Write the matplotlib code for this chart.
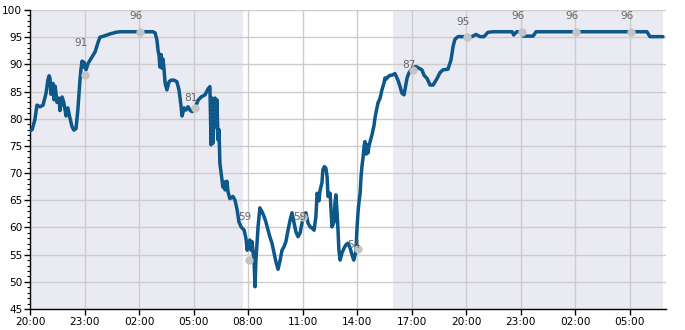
import matplotlib
matplotlib.use("Agg")
import matplotlib.pyplot as plt
import matplotlib.dates as mdates
import pandas as pd

# ---- data (minutes after 20:00 on day 1, value) ----
minutes = [0, 7, 16, 23, 33, 43, 53, 59, 63, 66, 69, 76, 79, 83, 89, 96, 99, 106, 112, 119,
           125, 132, 139, 145, 152, 158, 165, 168, 172, 175, 178, 185, 192, 205, 215, 225, 231,
           244, 264, 284, 297, 406, 413, 419, 423, 426, 429, 433, 436, 439, 442, 446, 452, 459,
           466, 475, 485, 492, 499, 502, 509, 515, 522, 528, 535, 545, 555, 565, 578, 588, 594,
           598, 601, 604, 611, 614, 617, 621, 624, 627, 634, 637, 641, 644, 650, 654, 660, 670,
           677, 684, 690, 697, 707, 713, 717, 721, 726, 730, 733, 740, 743, 746, 753, 759, 766,
           773, 779, 786, 792, 799, 806, 812, 819, 826, 832, 839, 845, 852, 859, 865, 872, 878,
           885, 892, 898, 905, 911, 918, 925, 931, 938, 944, 948, 954, 958, 964, 967, 972, 977,
           981, 984, 991, 997, 1004, 1007, 1010, 1014, 1017, 1020, 1024, 1030, 1037, 1043, 1050,
           1057, 1063, 1069, 1076, 1080, 1083, 1086, 1090, 1093, 1096, 1100, 1103, 1106, 1110,
           1113, 1116, 1119, 1123, 1129, 1136, 1139, 1143, 1149, 1156, 1162, 1169, 1172, 1176,
           1182, 1189, 1195, 1205, 1215, 1222, 1228, 1235, 1238, 1245, 1251, 1258, 1264, 1274,
           1284, 1294, 1301, 1311, 1321, 1331, 1344, 1354, 1364, 1380, 1390, 1397, 1403, 1413,
           1430, 1459, 1473, 1486, 1499, 1512, 1529, 1592, 1597, 1607, 1621, 1629, 1661, 1671,
           2037, 2047, 2090]
values = [77.8, 78.0, 79.8, 82.5, 82.2, 82.5, 84.7, 87.1, 87.9, 87.5, 84.5, 86.5, 83.5, 86.0,
          83.0, 83.8, 81.5, 84.0, 82.9, 80.5, 82.0, 80.1, 78.5, 77.9, 78.2, 81.6, 87.1, 89.0,
          90.6, 89.5, 90.4, 89.0, 90.2, 91.4, 92.3, 94.1, 95.0, 95.2, 95.6, 95.9, 96.0, 96.0,
          95.8, 94.5, 92.5, 91.7, 89.5, 91.8, 89.3, 91.0, 89.5, 86.6, 85.3, 86.8, 87.1, 87.1,
          86.8, 85.3, 82.2, 80.5, 82.0, 81.6, 82.2, 81.6, 81.3, 82.0, 83.4, 84.0, 84.4, 85.5,
          85.9, 75.2, 83.8, 75.5, 83.8, 78.5, 83.5, 76.1, 78.0, 71.8, 68.7, 67.4, 68.4, 66.9,
          68.5, 66.5, 65.3, 65.7, 65.0, 63.2, 61.0, 60.1, 59.5, 58.0, 55.8, 56.5, 57.7, 55.8,
          57.4, 53.5, 49.1, 54.0, 60.1, 63.6, 62.9, 62.0, 61.0, 59.5, 58.3, 57.1, 55.3, 53.7,
          52.3, 54.0, 55.8, 56.5, 57.4, 59.5, 61.4, 62.7, 60.8, 59.2, 58.3, 59.0, 60.8, 62.3,
          62.7, 60.8, 60.1, 59.9, 59.5, 62.0, 66.3, 64.9, 66.9, 68.2, 70.6, 71.2, 70.9, 69.3,
          65.7, 66.3, 60.1, 61.0, 64.5, 66.0, 62.7, 59.5, 55.8, 54.0, 55.3, 56.2, 56.8, 57.1,
          56.2, 55.0, 54.0, 55.5, 60.1, 62.7, 64.5, 66.3, 69.3, 71.2, 73.0, 74.9, 75.8, 73.5,
          75.2, 73.7, 74.9, 75.8, 77.0, 78.8, 80.1, 81.3, 82.9, 83.8, 85.3, 86.6, 87.5, 87.3,
          87.7, 88.0, 88.0, 88.3, 87.1, 85.9, 84.7, 84.4, 85.3, 87.5, 88.4, 89.0, 89.3, 89.6,
          89.3, 89.0, 88.0, 87.4, 86.2, 86.2, 87.4, 88.5, 89.0, 89.1, 90.8, 93.3, 94.6, 95.1,
          95.1, 95.1, 95.5, 95.1, 95.1, 95.9, 96.0, 96.0, 95.4, 96.0, 96.0, 95.2, 95.2, 96.0,
          96.0, 95.1, 95.1]

# annotated points: minutes after start, dot value, label text value
mark_minutes = [183, 363, 544, 723, 903, 1083, 1263, 1443, 1623, 1803, 1983]
mark_values = [88, 96, 82, 54, 62, 56, 89, 95, 96, 96, 96]
mark_labels = ["91", "96", "81", "59", "59", "54", "87", "95", "96", "96", "96"]
mark_label_values = [91, 96, 81, 59, 59, 54, 87, 95, 96, 96, 96]

# shaded (night) spans in minutes after start
shade_spans = [(0, 702), (1200, 2090)]

start = pd.Timestamp("2024-01-01 20:00")
x_end_minutes = 2100
y_min, y_max = 45, 100
y_ticks = [45, 50, 55, 60, 65, 70, 75, 80, 85, 90, 95, 100]

t = [start + pd.Timedelta(minutes=m) for m in minutes]
tm = [start + pd.Timedelta(minutes=m) for m in mark_minutes]

fig = plt.figure(figsize=(6.85, 3.30), dpi=100)
ax = fig.add_axes([30 / 685, 21 / 330, 636 / 685, 299 / 330])

for a, b in shade_spans:
    ax.axvspan(start + pd.Timedelta(minutes=a), start + pd.Timedelta(minutes=b),
               color="#eaeaf2", lw=0, zorder=0)

ax.grid(True, color="#cccccc", lw=1, zorder=1)
ax.set_axisbelow(True)

ax.plot(t, values, color="#0b5688", lw=2.5, solid_joinstyle="round",
        solid_capstyle="round", zorder=3)
ax.plot(t, values, color="#2f72a0", lw=0.5, ls=(0, (1, 4)), zorder=3.5)

ax.scatter(tm, mark_values, s=36, color="#c4c4c4", zorder=4, lw=0)
for xm, lv, lab in zip(tm, mark_label_values, mark_labels):
    ax.annotate(lab, (xm, lv), xytext=(-4, 15.5), textcoords="offset pixels",
                ha="center", va="center", fontsize=7.6, color="#666666", zorder=5)

ax.set_xlim(start, start + pd.Timedelta(minutes=x_end_minutes))
ax.set_ylim(y_min, y_max)
ax.set_yticks(y_ticks)
ax.yaxis.set_minor_locator(matplotlib.ticker.MultipleLocator(1))
ax.xaxis.set_major_locator(mdates.HourLocator(byhour=[2, 5, 8, 11, 14, 17, 20, 23]))
ax.xaxis.set_major_formatter(mdates.DateFormatter("%H:%M"))

for s in ["top", "right"]:
    ax.spines[s].set_visible(False)
for s in ["left", "bottom"]:
    ax.spines[s].set_color("black")
    ax.spines[s].set_linewidth(1)

ax.tick_params(axis="both", which="major", direction="out", length=4, width=1,
               labelsize=7.6, color="black", pad=1.5)
ax.tick_params(axis="y", which="minor", direction="out", length=2.5, width=0.8, color="black")
ax.tick_params(axis="x", which="minor", length=0)

fig.savefig("out.png", dpi=100)
